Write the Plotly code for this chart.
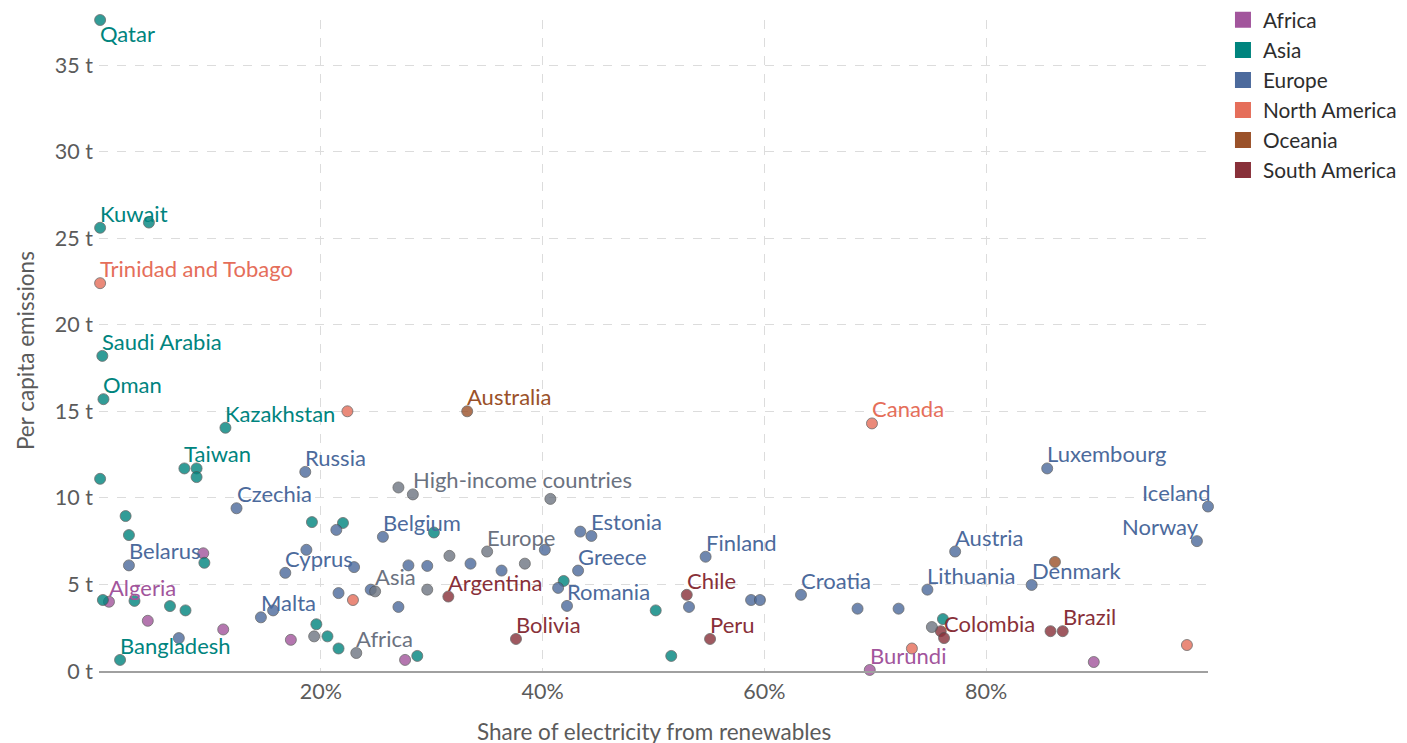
import plotly.graph_objects as go

# ---- data (x: share of electricity from renewables %, y: per-capita CO2 t) ----
africa_x = [0.9, 9.4, 4.4, 11.2, 17.3, 27.6, 69.5, 89.7]
africa_y = [4.0, 6.8, 2.9, 2.4, 1.8, 0.64, 0.06, 0.52]
africa_lbl = ["Algeria", "", "", "", "", "", "Burundi", ""]

asia_x = [0.1, 0.1, 4.5, 0.3, 0.4, 11.4, 0.1, 7.7, 8.8, 8.8, 2.4, 2.7, 9.5, 0.35, 3.2,
          6.4, 7.8, 1.9, 19.2, 22.0, 19.6, 20.6, 21.6, 28.7, 30.2, 41.9, 50.2, 51.6, 76.1]
asia_y = [37.6, 25.6, 25.9, 18.2, 15.7, 14.05, 11.1, 11.7, 11.7, 11.2, 8.95, 7.85, 6.25, 4.1, 4.05,
          3.75, 3.5, 0.64, 8.6, 8.55, 2.7, 2.0, 1.3, 0.87, 8.0, 5.2, 3.5, 0.87, 3.0]
asia_lbl = ["Qatar", "Kuwait", "", "Saudi Arabia", "Oman", "Kazakhstan", "", "Taiwan", "", "",
            "", "", "", "", "", "", "", "Bangladesh", "", "", "", "", "", "", "", "", "", "", ""]

europe_x = [18.6, 12.4, 2.7, 16.8, 18.7, 23.0, 14.6, 15.7, 21.4, 25.6, 21.6, 24.5, 27.0, 27.9,
            29.6, 33.5, 36.3, 40.2, 41.4, 43.2, 42.2, 43.4, 44.4, 54.7, 53.2, 58.8, 59.6, 63.3,
            68.4, 72.1, 74.7, 77.2, 84.1, 85.5, 99.0, 100.0, 7.2]
europe_y = [11.5, 9.4, 6.1, 5.67, 7.0, 6.0, 3.1, 3.5, 8.15, 7.75, 4.5, 4.7, 3.7, 6.1,
            6.07, 6.2, 5.8, 7.0, 4.8, 5.8, 3.76, 8.05, 7.8, 6.6, 3.7, 4.1, 4.1, 4.4,
            3.6, 3.6, 4.7, 6.9, 4.97, 11.7, 7.5, 9.5, 1.9]
europe_lbl = ["Russia", "Czechia", "Belarus", "Cyprus", "", "", "Malta", "", "", "Belgium", "", "", "", "",
              "", "", "", "", "", "Greece", "Romania", "", "Estonia", "Finland", "", "", "", "Croatia",
              "", "", "Lithuania", "Austria", "Denmark", "Luxembourg", "Norway", "Iceland", ""]

namerica_x = [0.1, 22.4, 69.7, 22.9, 73.3, 98.1]
namerica_y = [22.4, 15.0, 14.3, 4.1, 1.3, 1.5]
namerica_lbl = ["Trinidad and Tobago", "", "Canada", "", "", ""]

oceania_x = [33.2, 86.2]
oceania_y = [15.0, 6.3]
oceania_lbl = ["Australia", ""]

samerica_x = [31.5, 37.6, 53.0, 55.1, 75.9, 76.2, 86.9, 85.8]
samerica_y = [4.3, 1.85, 4.4, 1.85, 2.3, 1.9, 2.3, 2.3]
samerica_lbl = ["Argentina", "Bolivia", "Chile", "Peru", "", "Colombia", "Brazil", ""]

agg_x = [28.3, 35.0, 24.9, 23.2, 27.0, 40.7, 31.6, 38.4, 29.6, 19.4, 75.1]
agg_y = [10.2, 6.9, 4.6, 1.04, 10.6, 9.94, 6.65, 6.2, 4.7, 2.0, 2.54]
agg_lbl = ["High-income countries", "Europe", "Asia", "Africa", "", "", "", "", "", "", ""]

x_ticks = [20, 40, 60, 80]
x_ticktext = ["20%", "40%", "60%", "80%"]
y_ticks = [0, 5, 10, 15, 20, 25, 30, 35]
y_ticktext = ["0 t", "5 t", "10 t", "15 t", "20 t", "25 t", "30 t", "35 t"]

x_title = "Share of electricity from renewables"
y_title = "Per capita emissions"

# ---- styling ----
FONT = "Lato, 'Open Sans', sans-serif"
LABEL_SIZE = 22
left_labels = {"Iceland", "Norway"}
below_labels = {"Qatar"}

groups = [
    ("Africa", africa_x, africa_y, africa_lbl, "#A2559C", "#A2559C", True),
    ("Asia", asia_x, asia_y, asia_lbl, "#00847E", "#00847E", True),
    ("Europe", europe_x, europe_y, europe_lbl, "#4C6A9C", "#4C6A9C", True),
    ("North America", namerica_x, namerica_y, namerica_lbl, "#E56E5A", "#E56E5A", True),
    ("Oceania", oceania_x, oceania_y, oceania_lbl, "#9A5129", "#9A5129", True),
    ("South America", samerica_x, samerica_y, samerica_lbl, "#883039", "#883039", True),
    ("Aggregates", agg_x, agg_y, agg_lbl, "#6D7581", "#6B7280", False),
]

fig = go.Figure()
annotations = []

for name, xs, ys, lbls, color, tcolor, inleg in groups:
    fig.add_trace(go.Scatter(
        x=xs, y=ys, mode="markers",
        marker=dict(size=11, color=color, opacity=0.8,
                    line=dict(color="#4a4a4a", width=0.8)),
        showlegend=False, cliponaxis=False, hoverinfo="skip", name=name,
    ))
    for x, y, l in zip(xs, ys, lbls):
        if not l:
            continue
        if l in left_labels:
            xa, ya, xs_, ys_ = "right", "bottom", 3, 0
        elif l in below_labels:
            xa, ya, xs_, ys_ = "left", "top", -1, 1
        else:
            xa, ya, xs_, ys_ = "left", "bottom", -1, 0
        annotations.append(dict(
            x=x, y=y, xref="x", yref="y", text=l, showarrow=False,
            xanchor=xa, yanchor=ya, xshift=xs_, yshift=ys_, borderpad=0,
            font=dict(family=FONT, size=LABEL_SIZE, color=tcolor),
        ))

for name, xs, ys, lbls, color, tcolor, inleg in groups:
    if inleg:
        fig.add_trace(go.Scatter(
            x=[None], y=[None], mode="markers", name=name,
            marker=dict(symbol="square", size=16, color=color),
            showlegend=True,
        ))

# axis titles as paper annotations (keeps margins fixed)
annotations.append(dict(
    x=0.5, y=-0.0937, xref="paper", yref="paper", text=x_title, showarrow=False,
    xanchor="center", yanchor="middle",
    font=dict(family=FONT, size=22.5, color="#5b5b5b"),
))
annotations.append(dict(
    x=-0.0667, y=0.4915, xref="paper", yref="paper", text=y_title, showarrow=False,
    xanchor="center", yanchor="middle", textangle=-90,
    font=dict(family=FONT, size=22.5, color="#5b5b5b"),
))

# page body has an 8px margin: margins are set so the plot area lands where the reference has it
fig.update_layout(
    width=1407, height=743,
    margin=dict(l=91, r=207, t=12, b=80, autoexpand=False),
    paper_bgcolor="white", plot_bgcolor="white",
    font=dict(family=FONT, size=21.5, color="#5b5b5b"),
    annotations=annotations,
    legend=dict(x=1.0135, y=1.031, xanchor="left", yanchor="top",
                font=dict(family=FONT, size=20.8, color="#2d2d2d"),
                itemsizing="trace", tracegroupgap=0, bgcolor="rgba(0,0,0,0)"),
    xaxis=dict(
        range=[0, 100], tickmode="array", tickvals=x_ticks, ticktext=x_ticktext,
        showgrid=True, gridcolor="#dcdcdc", griddash="dash", gridwidth=1,
        zeroline=False, showline=True, linecolor="#a0a0a0", linewidth=1.5,
        tickfont=dict(size=21.5, color="#5b5b5b"), ticks="", automargin=False,
    ),
    yaxis=dict(
        range=[0, 37.6], tickmode="array", tickvals=y_ticks, ticktext=y_ticktext,
        showgrid=True, gridcolor="#dcdcdc", griddash="dash", gridwidth=1,
        zeroline=False, showline=False, ticklabelstandoff=5,
        tickfont=dict(size=21.5, color="#5b5b5b"), ticks="", automargin=False,
    ),
)

fig.write_html("out.html")
